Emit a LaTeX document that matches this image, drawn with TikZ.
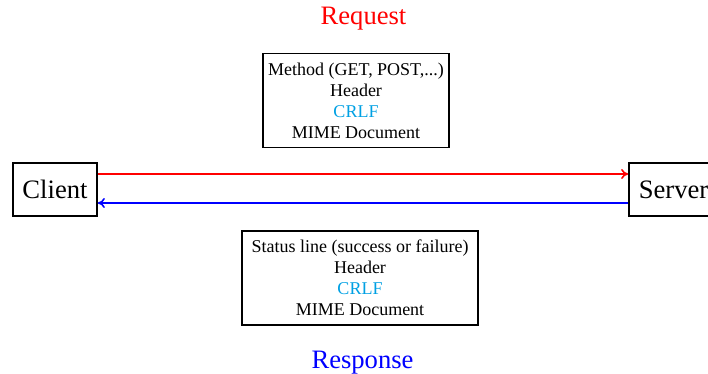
\documentclass[tikz,border=0pt]{standalone}
\usepackage{fontspec}
\setmainfont{Liberation Serif}
\usetikzlibrary{arrows.meta}
\definecolor{crlfblue}{RGB}{0,160,227}
\tikzset{
  big/.style={font=\fontsize{26.6}{32}\selectfont},
  endbox/.style={draw, line width=1.8pt, big, inner sep=0pt, minimum height=53pt},
  msgbox/.style={draw, line width=1.8pt, align=center, inner sep=0pt,
    font=\fontsize{18}{21}\selectfont, minimum height=94pt},
  flow/.style={line width=1.6pt, -{To[length=7pt,width=10pt]}}
}
\begin{document}
\begin{tikzpicture}[x=1pt,y=-1pt]
\useasboundingbox (0,0) rectangle (708,374);
\node[endbox, minimum width=84pt] (client) at (55,189.5) {Client};
\node[endbox, minimum width=89pt] (server) at (673.5,189.5) {Server};
\node[msgbox, minimum width=186pt] (req) at (356,100.5)
  {Method (GET, POST,...)\\Header\\\textcolor{crlfblue}{CRLF}\\MIME Document};
\node[msgbox, minimum width=236pt] (resp) at (360,278)
  {Status line (success or failure)\\Header\\\textcolor{crlfblue}{CRLF}\\MIME Document};
\node[big, text=red] (reqlabel) at (363.5,19) {Request};
\node[big, text=blue] (resplabel) at (362.5,363) {Response};
\draw[flow, red] ([yshift=15.5pt]client.east) -- ([yshift=15.5pt]server.west);
\draw[flow, blue] ([yshift=-13.5pt]server.west) -- ([yshift=-13.5pt]client.east);
\end{tikzpicture}
\end{document}
